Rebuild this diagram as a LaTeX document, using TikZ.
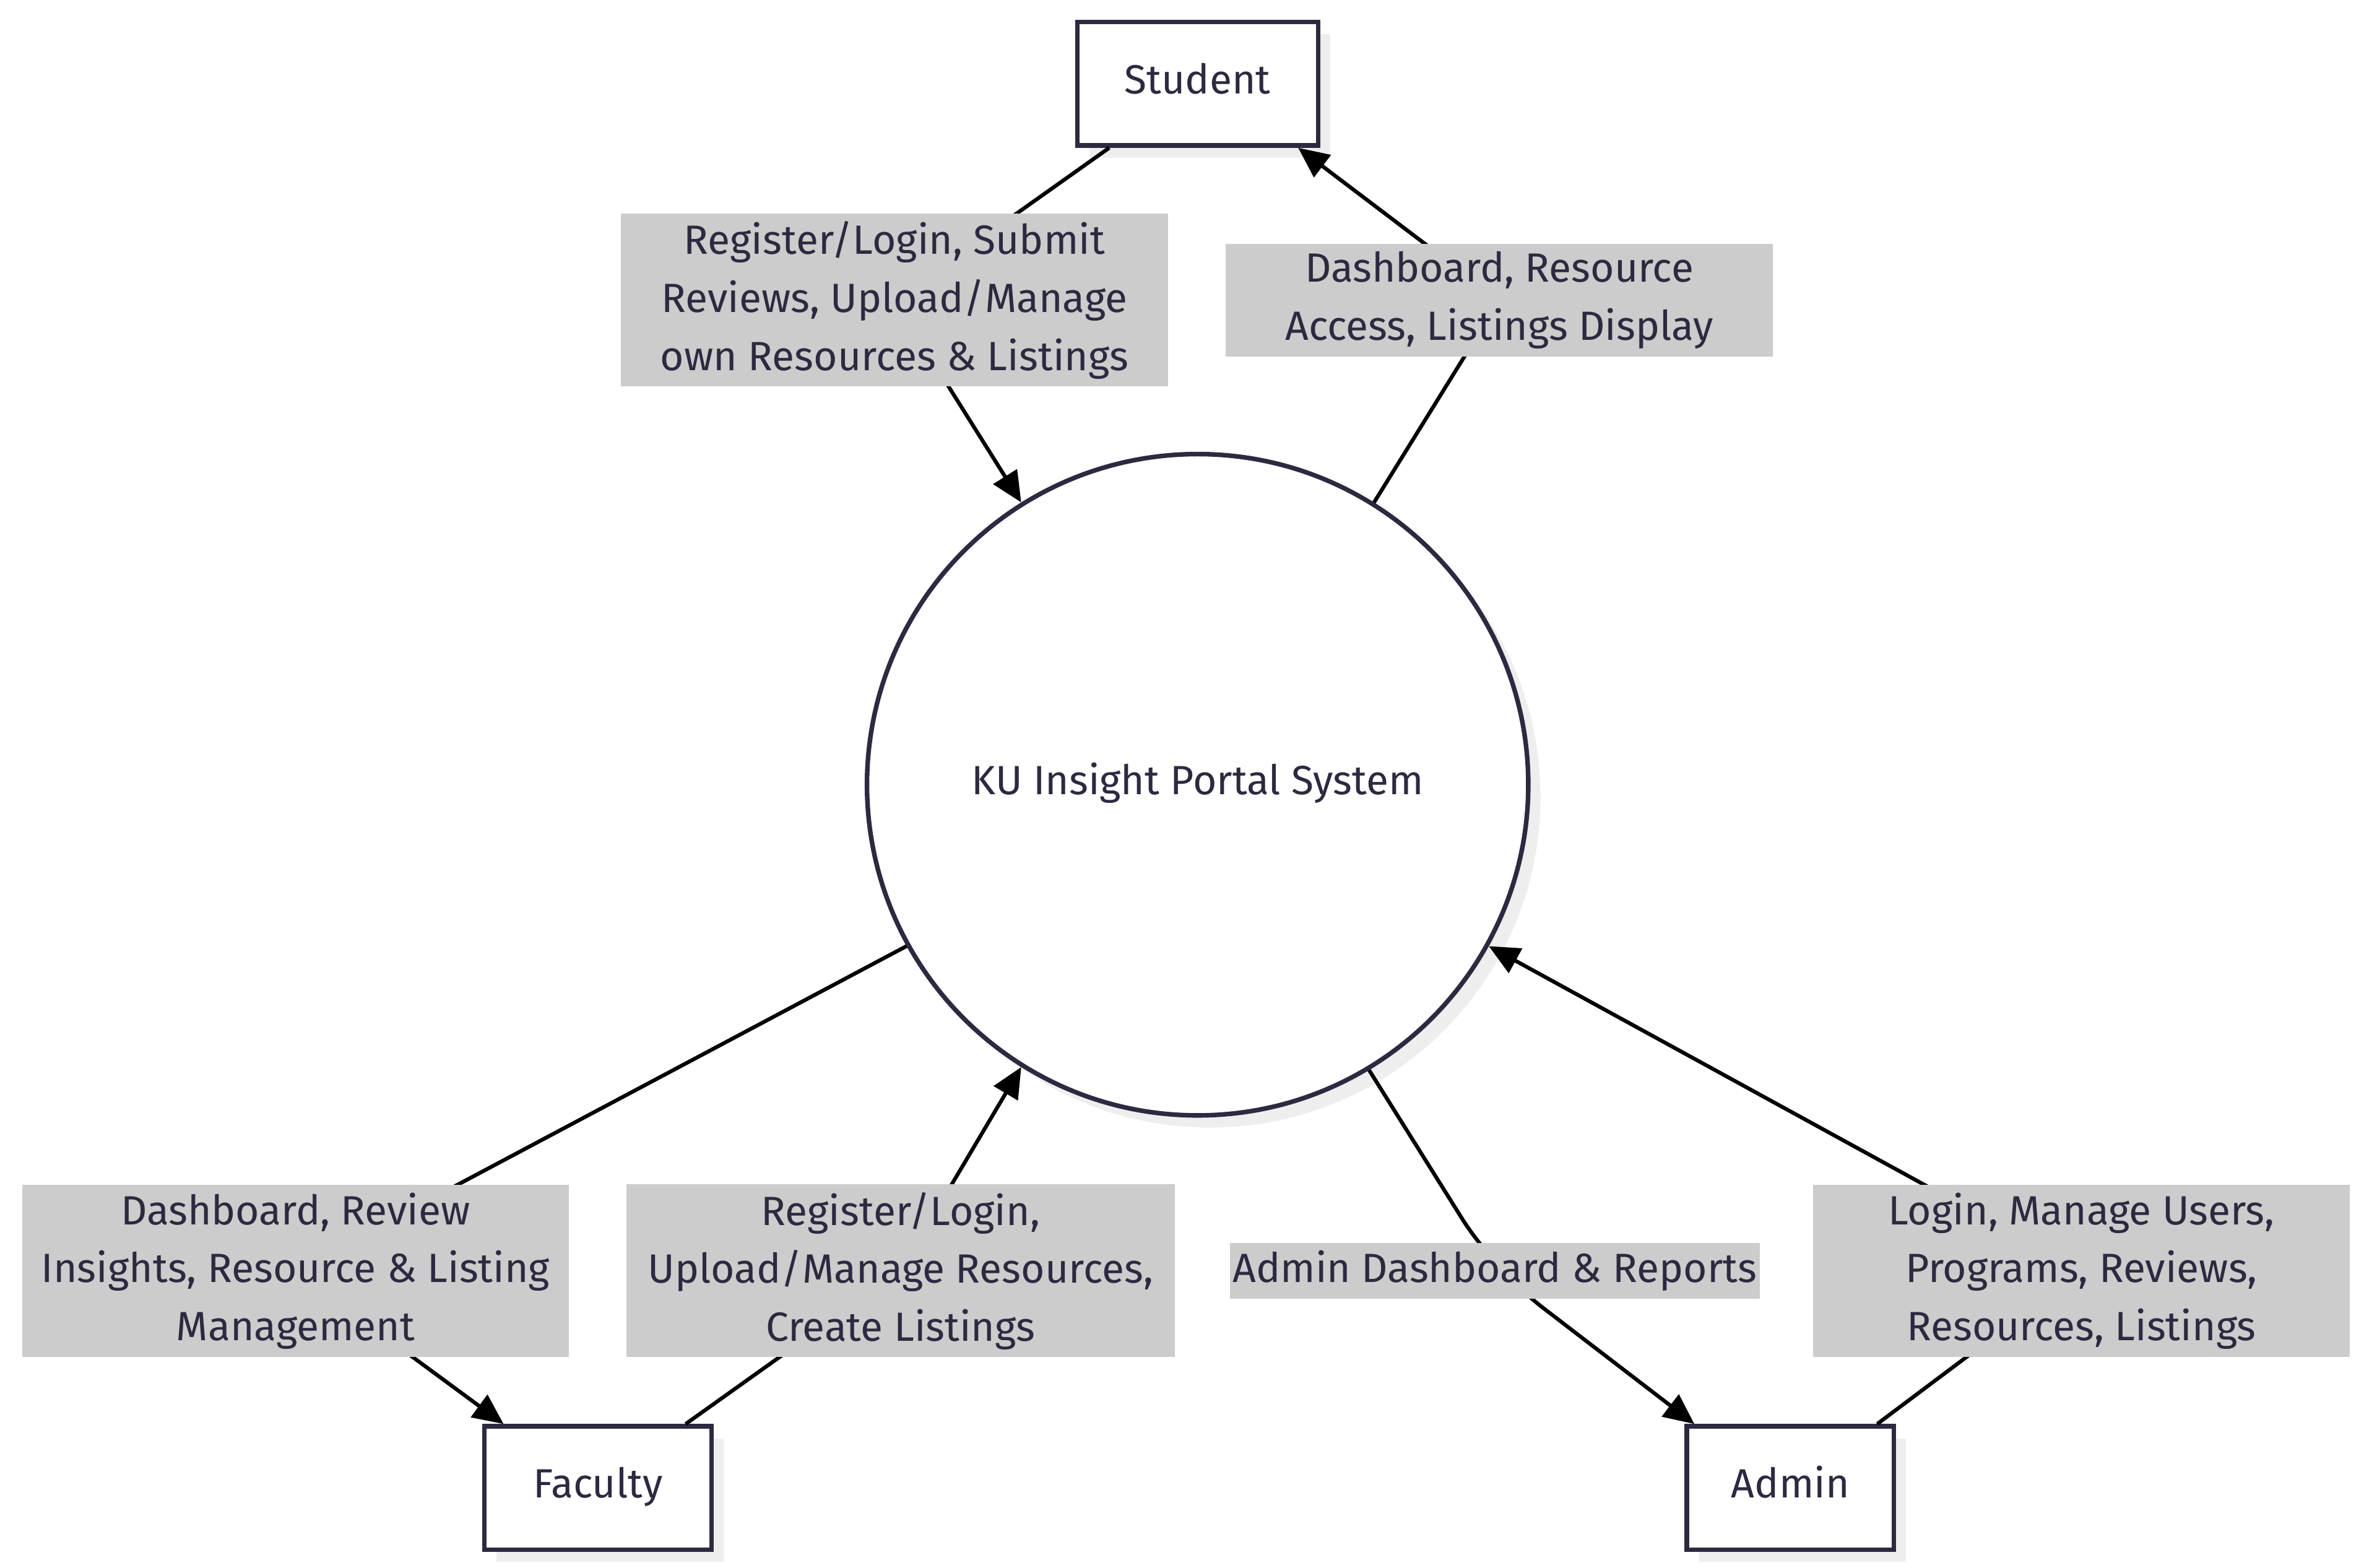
\documentclass[tikz,border=0pt]{standalone}
\usepackage{fontspec}
\setmainfont{Fira Sans}
\usepackage{tikz}
\usetikzlibrary{arrows.meta,shadows}
\definecolor{ink}{HTML}{2B2A40}
\definecolor{labgray}{HTML}{CCCCCC}
\definecolor{shade}{HTML}{EEEEEE}
\pgfdeclarelayer{front}
\pgfsetlayers{main,front}

\begin{document}
\begin{tikzpicture}[x=0.5pt, y=-0.5pt, >={Triangle[length=10pt,width=9pt]},
  font=\fontsize{13.4}{19}\selectfont, text=ink,
  entity/.style={draw=ink, line width=1.5pt, fill=white, minimum height=40.5pt,
    text height=9.5pt, text depth=3pt,
    drop shadow={shadow xshift=4pt, shadow yshift=-4pt, fill=shade, opacity=1}},
  process/.style={entity, circle, minimum size=217pt, inner sep=0pt},
  lab/.style={fill=labgray, align=center, inner xsep=1pt, inner ysep=2.5pt},
  flow/.style={->, draw=black, line width=1.25pt}]
  \useasboundingbox (0,0) rectangle (1560,1029);

  \node[entity, minimum width=79pt] (student) at (786,55) {Student};
  \node[process] (portal) at (786,515) {KU Insight Portal System};
  \node[entity, minimum width=74.5pt] (faculty) at (392.5,976.5) {Faculty};
  \node[entity, minimum width=68pt] (admin) at (1175,976.5) {Admin};

  \begin{pgfonlayer}{front}
  \node[lab, minimum width=179.5pt] (lab1) at (587,197) {Register/Login, Submit\\Reviews, Upload/Manage\\own Resources \& Listings};
  \node[lab, minimum width=179.5pt] (lab2) at (984,197) {Dashboard, Resource\\Access, Listings Display};
  \node[lab, minimum width=179.5pt] (lab3) at (194,834) {Dashboard, Review\\Insights, Resource \& Listing\\Management};
  \node[lab, minimum width=180pt] (lab4) at (591,834) {Register/Login,\\Upload/Manage Resources,\\Create Listings};
  \node[lab] (lab5) at (981,834) {Admin Dashboard \& Reports};
  \node[lab, minimum width=176pt] (lab6) at (1366,834) {Login, Manage Users,\\Programs, Reviews,\\Resources, Listings};
  \end{pgfonlayer}

  % data flows
  \draw[flow] ([xshift=-29pt]student.south) -- (lab1.center) -- (portal.122);
  \draw[flow] (portal.58) -- (lab2.center) -- ([xshift=33pt]student.south);
  \draw[flow] (portal.209) -- (lab3.center) -- ([xshift=-31pt]faculty.north);
  \draw[flow] ([xshift=28.75pt]faculty.north) -- (lab4.center) -- (portal.238.6);
  \draw[flow, rounded corners=20pt] (portal.301) -- (lab5.center) -- ([xshift=-31.5pt]admin.north);
  \draw[flow] ([xshift=28.5pt]admin.north) -- (lab6.center) -- (portal.331.3);
\end{tikzpicture}
\end{document}
